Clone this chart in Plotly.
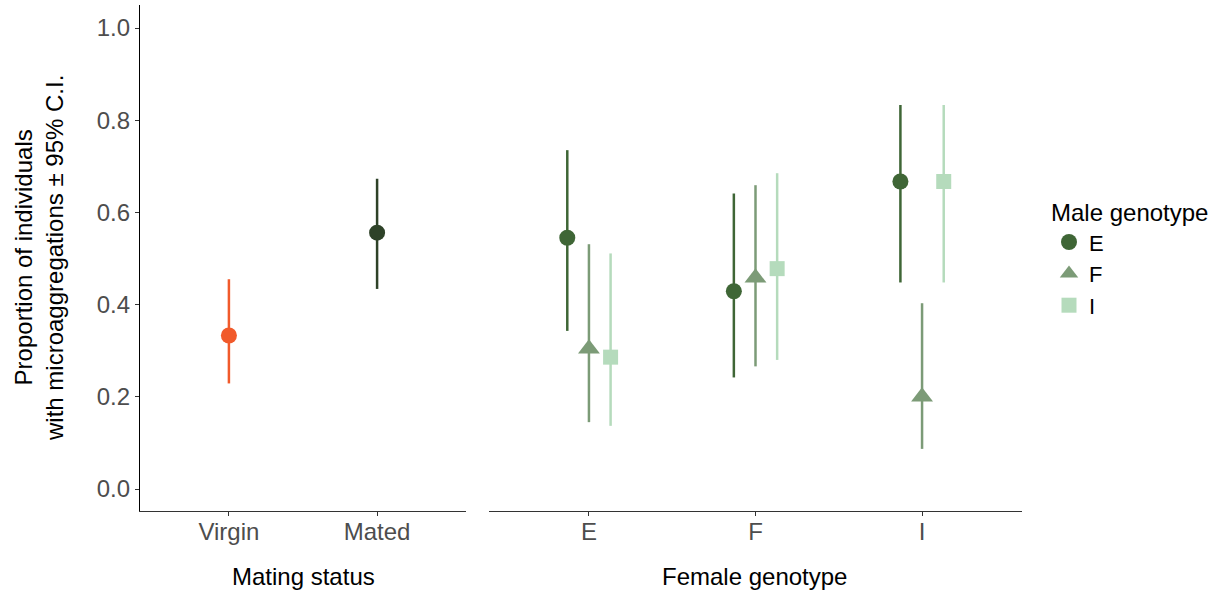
import plotly.graph_objects as go

# ---- data ----
status = ["Virgin", "Mated"]
status_prop = [0.333, 0.556]
status_lo = [0.229, 0.434]
status_hi = [0.455, 0.673]
status_colors = ["#F15A2B", "#2E4228"]

female = ["E", "F", "I"]
male = ["E", "F", "I"]
prop = {
    "E": [0.545, 0.429, 0.667],
    "F": [0.304, 0.458, 0.200],
    "I": [0.286, 0.478, 0.667],
}
lo = {
    "E": [0.343, 0.242, 0.448],
    "F": [0.145, 0.266, 0.087],
    "I": [0.137, 0.280, 0.448],
}
hi = {
    "E": [0.735, 0.641, 0.833],
    "F": [0.531, 0.659, 0.403],
    "I": [0.511, 0.685, 0.833],
}
male_colors = {"E": "#3F6636", "F": "#7C9B77", "I": "#B5DBBC"}
male_symbols = {"E": "circle", "F": "triangle-up", "I": "square"}
male_sizes = {"E": 16, "F": 19, "I": 15}
dodge = {"E": -0.13, "F": 0.0, "I": 0.13}
yticks = [0.0, 0.2, 0.4, 0.6, 0.8, 1.0]

W, H = 1225, 596


def px(x):
    return x / W


def py(y):
    return 1 - y / H


fig = go.Figure()

# left panel
for i, s in enumerate(status):
    fig.add_trace(go.Scatter(
        x=[i + 1], y=[status_prop[i]], mode="markers",
        marker=dict(symbol="circle", size=16, color=status_colors[i]),
        error_y=dict(type="data", symmetric=False,
                     array=[status_hi[i] - status_prop[i]],
                     arrayminus=[status_prop[i] - status_lo[i]],
                     color=status_colors[i], thickness=2.5, width=0),
        showlegend=False, xaxis="x", yaxis="y"))

# right panel
for m in male:
    xs = [j + 1 + dodge[m] for j in range(len(female))]
    fig.add_trace(go.Scatter(
        x=xs, y=prop[m], mode="markers", name=m,
        marker=dict(symbol=male_symbols[m], size=male_sizes[m], color=male_colors[m]),
        error_y=dict(type="data", symmetric=False,
                     array=[h - p for h, p in zip(hi[m], prop[m])],
                     arrayminus=[p - l for p, l in zip(prop[m], lo[m])],
                     color=male_colors[m], thickness=2.5, width=0),
        showlegend=True, xaxis="x2", yaxis="y2"))

ytop = py(5)
ybot = py(511)
yrange = [-22 / 461, 1 + 23 / 461]
FONT = "Liberation Sans, Arial"
tickfont = dict(family=FONT, size=24, color="#4D4D4D")
titlefont = dict(family=FONT, size=24, color="#000000")

fig.update_layout(
    width=W, height=H,
    margin=dict(l=0, r=0, t=0, b=0),
    paper_bgcolor="white", plot_bgcolor="white",
    font=dict(family=FONT, color="#000000"),
    xaxis=dict(domain=[px(140), px(466)], range=[0.4, 2.6],
               tickvals=[1, 2], ticktext=status, tickfont=tickfont,
               showgrid=False, zeroline=False, showline=True,
               linecolor="#333333", linewidth=1.2, ticks="outside",
               ticklen=4, tickcolor="#333333", anchor="y",
               ticklabelstandoff=-5),
    xaxis2=dict(domain=[px(489), px(1022)], range=[0.4, 3.6],
                tickvals=[1, 2, 3], ticktext=female, tickfont=tickfont,
                showgrid=False, zeroline=False, showline=True,
                linecolor="#333333", linewidth=1.2, ticks="outside",
                ticklen=4, tickcolor="#333333", anchor="y2",
                ticklabelstandoff=-5),
    yaxis=dict(domain=[ybot, ytop], range=yrange,
               tickvals=yticks, ticktext=[f"{v:.1f}" for v in yticks],
               tickfont=tickfont, showgrid=False, zeroline=False,
               showline=True, linecolor="#000000", linewidth=1.2,
               ticks="outside", ticklen=4, tickcolor="#333333", anchor="x"),
    yaxis2=dict(domain=[ybot, ytop], range=yrange, showticklabels=False,
                showgrid=False, zeroline=False, showline=False, ticks="",
                anchor="x2", matches="y"),
    legend=dict(x=px(1049), y=py(190), xanchor="left", yanchor="top",
                title=dict(text="Male genotype", font=titlefont),
                font=dict(family=FONT, size=22, color="#000000"),
                bgcolor="rgba(0,0,0,0)", tracegroupgap=0),
    annotations=[
        dict(text="Mating status", x=px(303), y=py(576), xref="paper", yref="paper",
             showarrow=False, font=titlefont, xanchor="center", yanchor="middle"),
        dict(text="Female genotype", x=px(755), y=py(576), xref="paper", yref="paper",
             showarrow=False, font=titlefont, xanchor="center", yanchor="middle"),
        dict(text="Proportion of individuals<br>with microaggregations ± 95% C.I.",
             x=px(39), y=py(258), xref="paper", yref="paper", textangle=-90,
             showarrow=False, font=titlefont, xanchor="center", yanchor="middle"),
    ],
)

fig.write_html("out.html", post_script="document.body.style.margin='0';",
               config={"displayModeBar": False})
